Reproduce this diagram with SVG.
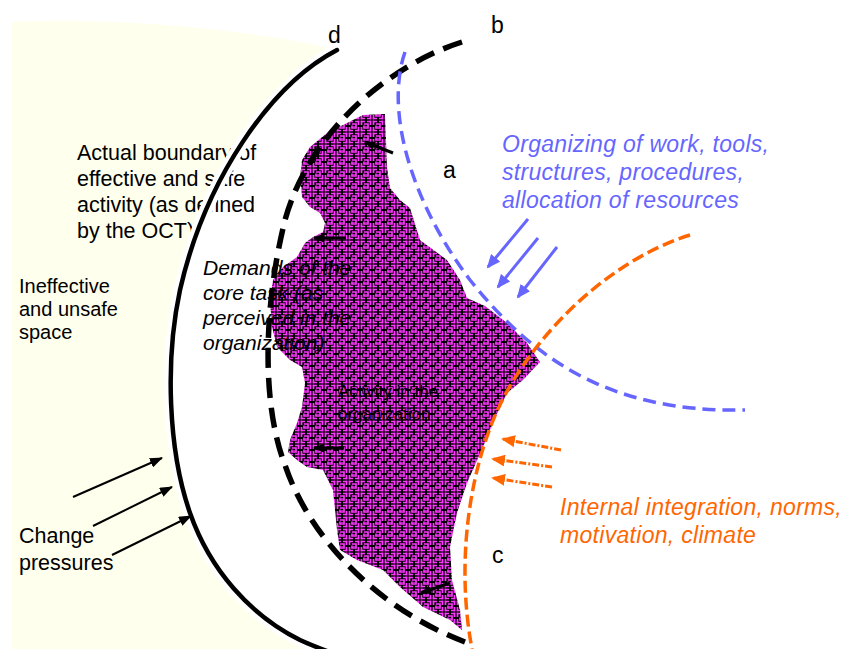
<svg xmlns="http://www.w3.org/2000/svg" width="842" height="649" viewBox="0 0 842 649">
<style>
.t{font-family:"Liberation Sans",Arial,sans-serif;fill:#000}
.lbl{font-family:"Liberation Sans",Arial,sans-serif;font-size:23px;fill:#000}
.it{font-style:italic}
.blue{fill:#6666FF}
.orange{fill:#FF6600}
</style>
<defs>
<pattern id="maze" width="12" height="12" patternUnits="userSpaceOnUse">
<rect width="12" height="12" fill="#000"/>
<path d="M0.5,1.5H5M7,1.5H11.5M1.5,0.5V5M1.5,7V11.5M10.5,0.5V5M10.5,7V11.5M0.5,10.5H5M7,10.5H11.5M4,4H8V8H4V5.5M6,6V6.8" fill="none" stroke="#FF38FF" stroke-width="1.7"/>
</pattern>
<marker id="ahK" markerUnits="userSpaceOnUse" markerWidth="14" markerHeight="10" refX="12" refY="5" orient="auto"><path d="M0,0L13,5L0,10Z" fill="#000"/></marker>
<marker id="ahS" markerUnits="userSpaceOnUse" markerWidth="12" markerHeight="10" refX="10" refY="5" orient="auto"><path d="M0,0.5L11,5L0,9.5Z" fill="#000"/></marker>
<marker id="ahB" markerUnits="userSpaceOnUse" markerWidth="14" markerHeight="12" refX="12" refY="6" orient="auto"><path d="M0,0L14,6L0,12Z" fill="#6666FF"/></marker>
<marker id="ahO" markerUnits="userSpaceOnUse" markerWidth="14" markerHeight="12" refX="12" refY="6" orient="auto"><path d="M0,0L14,6L0,12Z" fill="#FF6600"/></marker>
</defs>

<g id="background">
<path d="M12,22 C100,17 250,28 337,50 C270,85 205,180 180,290 C165,360 168,450 190,513 C210,570 250,615 300,640 C315,647 330,652 345,658 L12,658 Z" fill="#FFFFEE"/>
</g>

<g id="outside-text">
<text class="t" font-size="20"><tspan x="19" y="293">Ineffective</tspan><tspan x="19" y="316">and unsafe</tspan><tspan x="19" y="339">space</tspan></text>
<text class="t" font-size="21.5"><tspan x="19" y="543">Change</tspan><tspan x="19" y="570">pressures</tspan></text>
<text class="t" font-size="21.5"><tspan x="77" y="160">Actual boundary of</tspan><tspan x="77" y="186">effective and safe</tspan><tspan x="77" y="212">activity (as defined</tspan><tspan x="77" y="238">by the OCT)</tspan></text>
</g>

<g id="activity">
<path d="M347,123 L363,115 L385,114 L386,140 L387,167 L390,188 L400,200 L410,208 L420,240 L447,260 L460,280 L467,298 L485,306 L507,323 L527,343 L540,362 L523,380 L507,393 L495,418 L483,447 L467,483 L457,513 L450,547 L452,580 L460,610 L462,630 L450,620 L423,607 L400,587 L383,570 L357,560 L340,550 L337,530 L333,490 L323,470 L307,467 L297,460 L288,452 L290,440 L297,423 L302,407 L305,383 L302,367 L290,360 L277,347 L272,327 L270,300 L273,280 L283,267 L297,257 L305,243 L313,237 L323,232 L325,223 L320,213 L310,207 L302,197 L300,177 L302,160 L310,147 L327,133 Z" fill="url(#maze)"/>
<text class="t" font-size="17"><tspan x="338" y="397">Activity in the</tspan><tspan x="338" y="420">organization</tspan></text>
<g stroke="#000" stroke-width="3" fill="none">
<line x1="393" y1="153" x2="365" y2="142" marker-end="url(#ahS)"/>
<line x1="346" y1="238" x2="314" y2="238" marker-end="url(#ahS)"/>
<line x1="344" y1="448" x2="314" y2="448" marker-end="url(#ahS)"/>
<line x1="450" y1="583" x2="421" y2="593" marker-end="url(#ahS)"/>
</g>
</g>

<g id="demands">
<text class="t it" font-size="21"><tspan x="203" y="275">Demands of the</tspan><tspan x="203" y="300">core task (as</tspan><tspan x="203" y="325">perceived in the</tspan><tspan x="203" y="350">organization)</tspan></text>
</g>

<g id="connectors">
<path id="arc-d" d="M337,50 C270,85 205,180 180,290 C165,360 168,450 190,513 C210,570 250,615 300,640 C315,647 330,652 345,658" fill="none" stroke="#fff" stroke-width="13"/>
<path d="M337,50 C270,85 205,180 180,290 C165,360 168,450 190,513 C210,570 250,615 300,640 C315,647 330,652 345,658" fill="none" stroke="#000" stroke-width="4.5" stroke-linecap="round"/>
<path id="arc-b" d="M462,42 C390,65 310,130 285,220 C265,300 260,400 285,465 C310,540 380,610 465,642" fill="none" stroke="#000" stroke-width="5.5" stroke-dasharray="20 10"/>
<path id="arc-a" d="M405,52 C385,110 410,200 470,280 C530,355 605,413 745,410" fill="none" stroke="#6666FF" stroke-width="3.5" stroke-dasharray="13 7"/>
<path id="arc-c" d="M690,235 C610,260 540,330 505,395 C470,460 455,560 472,649" fill="none" stroke="#FF6600" stroke-width="3.5" stroke-dasharray="12 5"/>
<g stroke="#000" stroke-width="2">
<line x1="73" y1="497" x2="162" y2="458" marker-end="url(#ahK)"/>
<line x1="93" y1="526" x2="172" y2="487" marker-end="url(#ahK)"/>
<line x1="112" y1="555" x2="191" y2="516" marker-end="url(#ahK)"/>
</g>
<g stroke="#6666FF" stroke-width="3">
<line x1="528" y1="219" x2="488" y2="267" marker-end="url(#ahB)"/>
<line x1="538" y1="238" x2="498" y2="287" marker-end="url(#ahB)"/>
<line x1="557" y1="247" x2="518" y2="297" marker-end="url(#ahB)"/>
</g>
<g stroke="#FF6600" stroke-width="3" stroke-dasharray="7 2 2 2">
<line x1="561" y1="450" x2="503" y2="439" marker-end="url(#ahO)"/>
<line x1="552" y1="467" x2="493" y2="459" marker-end="url(#ahO)"/>
<line x1="552" y1="487" x2="493" y2="478" marker-end="url(#ahO)"/>
</g>
</g>

<g id="labels">
<text class="lbl" x="328" y="43">d</text>
<text class="lbl" x="491" y="33">b</text>
<text class="lbl" x="443" y="178">a</text>
<text class="lbl" x="492" y="563">c</text>
<text class="t it blue" font-size="23" letter-spacing="0.3"><tspan x="502" y="152">Organizing of work, tools,</tspan><tspan x="502" y="180">structures, procedures,</tspan><tspan x="502" y="208">allocation of resources</tspan></text>
<text class="t it orange" font-size="23" letter-spacing="0.3"><tspan x="560" y="515">Internal integration, norms,</tspan><tspan x="560" y="543">motivation, climate</tspan></text>
</g>
</svg>
